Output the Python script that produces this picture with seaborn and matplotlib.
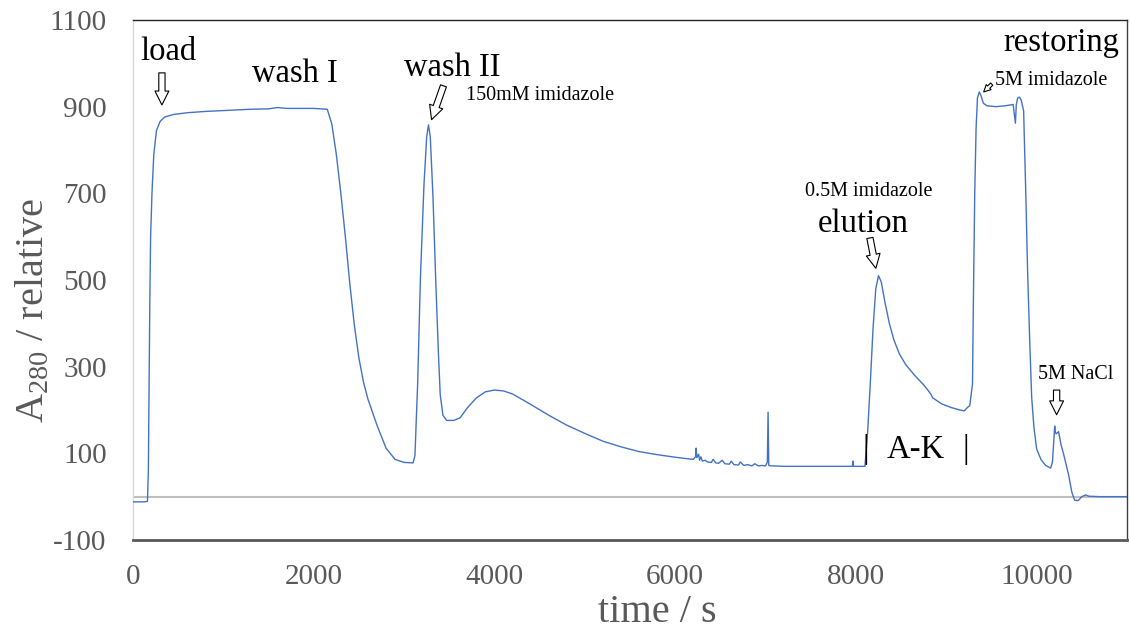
import matplotlib
matplotlib.use("Agg")
import matplotlib.pyplot as plt
import seaborn as sns
import pandas as pd

# ---------------- data ----------------
time_s = [
    0, 120, 160, 170, 178, 186, 195, 210, 230, 260, 300, 350, 450, 600, 800, 1000,
    1300, 1500, 1600, 1700, 2000, 2150,
    2200, 2250, 2300, 2350, 2400, 2450, 2500, 2550, 2600, 2700, 2800, 2900, 3000, 3100,
    3120, 3150, 3180, 3220, 3250, 3270, 3290, 3320, 3350, 3380, 3400, 3430, 3470, 3550, 3620,
    3700, 3800, 3900, 4000, 4100, 4200, 4400, 4600, 4800, 5000, 5200, 5400, 5600, 5800, 6000,
    6200, 6225, 6232, 6240, 6260, 6270, 6285, 6300, 6330, 6360, 6400, 6420, 6450, 6480, 6520,
    6550, 6600, 6620, 6650, 6700, 6720, 6760, 6800, 6850, 6880, 6920, 6960, 7000, 7020,
    7028, 7036, 7060, 7100, 7200, 7400, 7600, 7800, 7960, 7967, 7975, 8050, 8100,
    8130, 8160, 8190, 8220, 8250, 8280, 8320, 8370, 8420, 8480, 8550, 8650, 8750, 8800,
    8830, 8850, 8950, 9050, 9150, 9200, 9230,
    9260, 9290, 9300, 9315, 9330, 9345, 9365, 9385, 9410, 9450, 9550, 9650, 9740, 9755,
    9765, 9775, 9790, 9810, 9830, 9856, 9880, 9900, 9923, 9945, 9970, 10000, 10050, 10100,
    10155, 10175, 10190, 10200, 10206, 10215, 10243, 10270, 10300, 10354, 10390, 10420,
    10460, 10500, 10541, 10580, 10700, 11000,
]
a280 = [
    -12, -12, -11, 60, 250, 450, 600, 700, 790, 845, 866, 876, 882, 886, 889, 891,
    894, 895, 898, 896, 896, 894,
    860, 790, 700, 600, 490, 395, 320, 265, 225, 165, 112, 86, 79, 78,
    95, 260, 500, 720, 830, 858, 830, 690, 500, 330, 235, 188, 176, 176, 182,
    205, 228, 242, 246, 244, 237, 213, 188, 165, 146, 128, 115, 104, 97, 91,
    86, 92, 112, 90, 98, 84, 92, 82, 84, 80, 79, 86, 78, 77, 84,
    76, 75, 82, 74, 73, 80, 72, 74, 71, 76, 71, 72, 71, 80,
    195, 72, 71, 71, 70, 70, 70, 70, 70, 82, 70, 70, 70,
    150, 265, 390, 480, 510, 496, 450, 400, 362, 330, 305, 280, 258, 245,
    236, 228, 214, 206, 200, 198, 205,
    210, 260, 450, 700, 850, 920, 934, 925, 908, 902, 900, 902, 905, 880,
    862, 905, 920, 922, 915, 890, 700, 520, 362, 230, 160, 110, 85, 72,
    66, 80, 130, 163, 150, 145, 150, 120, 97, 50, 10, -8,
    -9, 0, 4, 1, 0, 0,
]
x_ticks = [0, 2000, 4000, 6000, 8000, 10000]
y_ticks = [-100, 100, 300, 500, 700, 900, 1100]
step_labels = ["load", "wash I", "wash II", "elution", "restoring", "A-K"]
buffer_labels = ["150mM imidazole", "0.5M imidazole", "5M imidazole", "5M NaCl"]

df = pd.DataFrame({"time": time_s, "A280": a280})

# ---------------- style ----------------
sns.set_style("white")
plt.rcParams["font.family"] = ["Liberation Serif", "DejaVu Serif"]
plt.rcParams["mathtext.fontset"] = "custom"
plt.rcParams["mathtext.rm"] = "Liberation Serif"
plt.rcParams["axes.unicode_minus"] = False

fig = plt.figure(figsize=(11.3, 6.36), dpi=100)
ax = fig.add_axes([133 / 1130, 1 - 540 / 636, (1127 - 133) / 1130, (540 - 20) / 636])

ax.axhline(0, color="#bfbfbf", lw=1.5, zorder=1)
sns.lineplot(data=df, x="time", y="A280", estimator=None, sort=False,
             color="#4472c4", lw=1.0, ax=ax, zorder=3)

ax.set_xlim(0, 11000)
ax.set_ylim(-100, 1100)
ax.set_xticks(x_ticks)
ax.set_yticks(y_ticks)
ax.tick_params(axis="both", length=0, labelsize=21, labelcolor="#595959")
ax.tick_params(axis="y", pad=19)
ax.tick_params(axis="x", pad=17)

ax.set_xlabel("time / s", fontsize=29, color="#595959")
ax.set_ylabel(r"$\mathregular{A_{280}}$ / relative", fontsize=29, color="#595959")
ax.xaxis.set_label_coords((657 - 133) / 994, (540 - 594) / 520)
ax.yaxis.set_label_coords((52 - 133) / 994, (540 - 310) / 520)

for side, col, lw in [("left", "#d9d9d9", 1.0), ("bottom", "#595959", 2.0),
                      ("top", "#262626", 1.0), ("right", "#404040", 1.0)]:
    ax.spines[side].set_visible(True)
    ax.spines[side].set_color(col)
    ax.spines[side].set_linewidth(lw)

# ---------------- annotations ----------------
big = 23.5
small = 14.5
txt = dict(ha="center", va="center", color="black")
ax.text(387, 1026, step_labels[0], fontsize=big, **txt)
ax.text(1790, 975, step_labels[1], fontsize=big, **txt)
ax.text(3536, 989, step_labels[2], fontsize=big, **txt)
ax.text(8077, 629, step_labels[3], fontsize=big, **txt)
ax.text(10276, 1047, step_labels[4], fontsize=big, **txt)
ax.text(8663, 108, step_labels[5], fontsize=big, **txt)
ax.text(8110, 108, "|", fontsize=big, **txt)
ax.text(9215, 108, "|", fontsize=big, **txt)

ax.text(4508, 925, buffer_labels[0], fontsize=small, **txt)
ax.text(8144, 705, buffer_labels[1], fontsize=small, **txt)
ax.text(10166, 961, buffer_labels[2], fontsize=small, **txt)
ax.text(10431, 281, buffer_labels[3], fontsize=small, **txt)

arrow_style = "simple,head_length=1.0,head_width=1.0,tail_width=0.45"
arrows = [((320, 978), (320, 904), 10), ((3436, 948), (3304, 870), 10),
          ((8155, 597), (8221, 527), 10), ((10221, 246), (10221, 189), 10),
          ((9503, 952), (9414, 934), 5)]
for tail, tip, ms in arrows:
    ax.annotate("", xy=tip, xytext=tail,
                arrowprops=dict(arrowstyle=arrow_style, mutation_scale=ms,
                                fc="white", ec="black", lw=0.8,
                                shrinkA=0, shrinkB=0), zorder=5)

fig.savefig("out.png", dpi=100)
